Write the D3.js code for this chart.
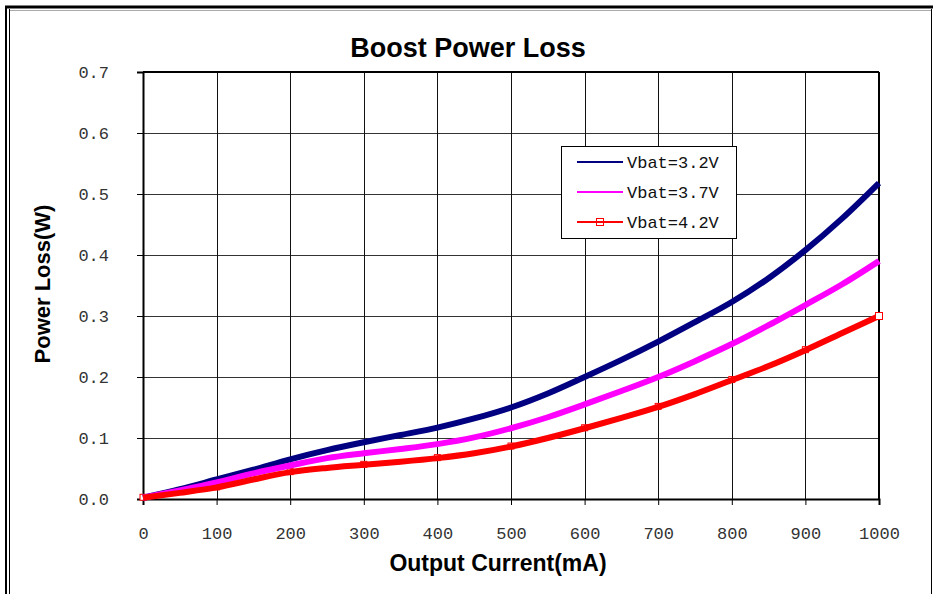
<!DOCTYPE html>
<html>
<head>
<meta charset="utf-8">
<script src="https://cdn.jsdelivr.net/npm/d3@7/dist/d3.min.js"></script>
<style>
  body { margin: 0; background: #fff; }
  svg { display: block; }
</style>
</head>
<body>
<svg id="chart"></svg>
<script>
// data
const currents = [0, 50, 100, 150, 200, 250, 300, 350, 400, 450, 500, 550, 600, 650, 700, 750, 800, 850, 900, 950, 1000];
const loss32 = [0.002, 0.016, 0.032, 0.048, 0.065, 0.080, 0.093, 0.105, 0.117, 0.132, 0.150, 0.173, 0.200, 0.228, 0.258, 0.290, 0.323, 0.362, 0.408, 0.460, 0.518];
const loss37 = [0.002, 0.014, 0.027, 0.042, 0.055, 0.067, 0.075, 0.082, 0.090, 0.101, 0.116, 0.134, 0.155, 0.177, 0.200, 0.226, 0.254, 0.285, 0.318, 0.352, 0.390];
const loss42 = [0.002, 0.010, 0.019, 0.032, 0.044, 0.051, 0.056, 0.061, 0.067, 0.075, 0.086, 0.100, 0.116, 0.133, 0.151, 0.172, 0.195, 0.218, 0.244, 0.272, 0.300];
const seriesNames = ['Vbat=3.2V', 'Vbat=3.7V', 'Vbat=4.2V'];
const seriesColors = ['#000080', '#ff00ff', '#ff0000'];
const xTicks = [0, 100, 200, 300, 400, 500, 600, 700, 800, 900, 1000];
const yTicks = [0, 0.1, 0.2, 0.3, 0.4, 0.5, 0.6, 0.7];

const W = 933, H = 594;
const margin = { top: 72, right: 54, bottom: 95, left: 143 };
const width = W - margin.left - margin.right;
const height = H - margin.top - margin.bottom;

const svg = d3.select('#chart').attr('width', W).attr('height', H);

// outer frame
const frame = svg.append('g');
frame.append('line').attr('x1', 5).attr('x2', 933).attr('y1', 7).attr('y2', 7)
  .attr('stroke', '#000').attr('stroke-width', 3);
frame.append('line').attr('x1', 6).attr('x2', 6).attr('y1', 6).attr('y2', 594)
  .attr('stroke', '#000').attr('stroke-width', 2);
frame.append('line').attr('x1', 9.5).attr('x2', 9.5).attr('y1', 9).attr('y2', 594)
  .attr('stroke', '#000').attr('stroke-width', 1);
frame.append('line').attr('x1', 10).attr('x2', 931).attr('y1', 10.5).attr('y2', 10.5)
  .attr('stroke', '#aaa').attr('stroke-width', 1);
frame.append('line').attr('x1', 931.5).attr('x2', 931.5).attr('y1', 9).attr('y2', 594)
  .attr('stroke', '#000').attr('stroke-width', 1);

const g = svg.append('g').attr('transform', `translate(${margin.left},${margin.top})`);

const x = d3.scaleLinear().domain([0, 1000]).range([0, width]);
const y = d3.scaleLinear().domain([0, 0.7]).range([height, 0]);

// gridlines
g.append('g').selectAll('line').data(yTicks.slice(1, -1)).enter().append('line')
  .attr('x1', 0).attr('x2', width)
  .attr('y1', d => Math.round(y(d)) + 0.5).attr('y2', d => Math.round(y(d)) + 0.5)
  .attr('stroke', '#333').attr('stroke-width', 1);
g.append('g').selectAll('line').data(xTicks.slice(1, -1)).enter().append('line')
  .attr('y1', 0).attr('y2', height)
  .attr('x1', d => Math.round(x(d)) + 0.5).attr('x2', d => Math.round(x(d)) + 0.5)
  .attr('stroke', '#111').attr('stroke-width', 1);

// plot border (top + right)
g.append('line').attr('x1', 0).attr('x2', width).attr('y1', 0).attr('y2', 0)
  .attr('stroke', '#000').attr('stroke-width', 2);
g.append('line').attr('x1', width).attr('x2', width).attr('y1', 0).attr('y2', height)
  .attr('stroke', '#000').attr('stroke-width', 2);

// axes
const tickFont = '"Liberation Mono", "DejaVu Sans Mono", monospace';
const xAxis = g.append('g').attr('transform', `translate(0,${height})`)
  .call(d3.axisBottom(x).tickValues(xTicks).tickSize(6).tickPadding(22).tickFormat(d3.format('d')));
const yAxis = g.append('g')
  .call(d3.axisLeft(y).tickValues(yTicks).tickSize(6).tickPadding(28).tickFormat(d3.format('.1f')));
[xAxis, yAxis].forEach(a => {
  a.select('.domain').attr('stroke', '#000').attr('stroke-width', 2);
  a.selectAll('.tick line').attr('stroke', '#000');
  a.selectAll('.tick text').attr('font-family', tickFont).attr('font-size', 17).attr('fill', '#333');
});
yAxis.selectAll('.tick text').attr('dy', '0.35em');

// title + axis labels
const sans = '"Liberation Sans", Arial, sans-serif';
svg.append('text').attr('x', 468).attr('y', 57).attr('text-anchor', 'middle')
  .attr('font-family', sans).attr('font-weight', 'bold')
  .attr('font-size', 27).text('Boost Power Loss');
svg.append('text').attr('x', 498).attr('y', 571).attr('text-anchor', 'middle')
  .attr('font-family', sans).attr('font-weight', 'bold')
  .attr('font-size', 23).text('Output Current(mA)');
svg.append('text').attr('transform', 'translate(50,284) rotate(-90)').attr('text-anchor', 'middle')
  .attr('font-family', sans).attr('font-weight', 'bold')
  .attr('font-size', 22).text('Power Loss(W)');

// lines
const allSeries = [loss32, loss37, loss42];
const line = d3.line()
  .x((d, i) => x(currents[i]))
  .y(d => y(d))
  .curve(d3.curveMonotoneX);

// red series markers (hollow squares) every 100 mA, mostly hidden by the thick line
const markerIdx = currents.map((c, i) => i).filter(i => currents[i] % 100 === 0);
g.append('g').selectAll('rect').data(markerIdx).enter().append('rect')
  .attr('x', i => x(currents[i]) - 3).attr('y', i => y(loss42[i]) - 3.5)
  .attr('width', 6).attr('height', 6)
  .attr('fill', '#fff').attr('stroke', '#ff0000').attr('stroke-width', 1);

allSeries.forEach((s, k) => {
  g.append('path').datum(s)
    .attr('fill', 'none')
    .attr('stroke', seriesColors[k])
    .attr('stroke-width', 6)
    .attr('stroke-linejoin', 'round')
    .attr('d', line);
});

// last marker on top
g.append('rect')
  .attr('x', x(1000) - 3.5).attr('y', y(loss42[loss42.length - 1]) - 3.5)
  .attr('width', 7).attr('height', 7)
  .attr('fill', '#fff').attr('stroke', '#ff0000').attr('stroke-width', 1);

// legend
const legend = svg.append('g').attr('transform', 'translate(561,146)');
legend.append('rect').attr('x', 0.5).attr('y', 0.5).attr('width', 175).attr('height', 92)
  .attr('fill', '#fff').attr('stroke', '#000').attr('stroke-width', 1);
seriesNames.forEach((name, k) => {
  const ly = 16 + k * 30;
  legend.append('line').attr('x1', 16).attr('x2', 62).attr('y1', ly).attr('y2', ly)
    .attr('stroke', seriesColors[k]).attr('stroke-width', 2);
  if (k === 2) {
    legend.append('rect').attr('x', 35.5).attr('y', ly - 3.5).attr('width', 7).attr('height', 7)
      .attr('fill', 'none').attr('stroke', '#ff0000').attr('stroke-width', 1);
  }
  legend.append('text').attr('x', 66).attr('y', ly).attr('dy', '0.35em')
    .attr('font-family', tickFont).attr('font-size', 17).attr('fill', '#111')
    .text(name);
});
</script>
</body>
</html>
